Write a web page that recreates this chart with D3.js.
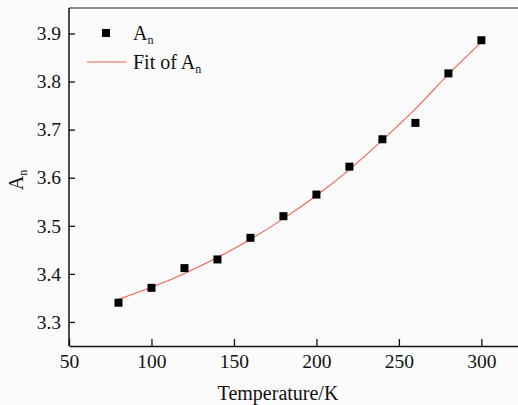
<!DOCTYPE html>
<html>
<head>
<meta charset="utf-8">
<script src="https://cdn.jsdelivr.net/npm/d3@7"></script>
<style>
  body { margin: 0; background: #fbfbfb; }
  svg text { font-family: "Liberation Serif", "Times New Roman", serif; fill: #111; }
</style>
</head>
<body>
<script>
// measured points
var temps = [80, 100, 120, 140, 160, 180, 200, 220, 240, 260, 280, 300];
var anValues = [3.340, 3.371, 3.412, 3.430, 3.475, 3.520, 3.565, 3.623, 3.680, 3.714, 3.817, 3.886];
// fit curve
var fitValues = [3.347, 3.372, 3.401, 3.434, 3.472, 3.515, 3.563, 3.617, 3.678, 3.743, 3.815, 3.882];
var xTicks = [50, 100, 150, 200, 250, 300];
var yTicks = [3.3, 3.4, 3.5, 3.6, 3.7, 3.8, 3.9];

var serif = '"Liberation Serif", "Times New Roman", serif';
var width = 518, height = 405;
var plotLeft = 69, plotTop = 8, plotBottom = 346;

var svg = d3.select("body").append("svg")
  .attr("width", width)
  .attr("height", height);

var x = d3.scaleLinear().domain([50, 322.2]).range([plotLeft, width]);
var y = d3.scaleLinear().domain([3.25, 3.953]).range([plotBottom, plotTop]);

// top frame line
svg.append("line")
  .attr("x1", plotLeft).attr("x2", width)
  .attr("y1", plotTop).attr("y2", plotTop)
  .attr("stroke", "#666").attr("stroke-width", 1.5);

//axes, ticks point inward
var xAxis = d3.axisBottom(x).tickValues(xTicks).tickSizeInner(-7).tickSizeOuter(0).tickPadding(8);
var yAxis = d3.axisLeft(y).tickValues(yTicks).tickSizeInner(-6).tickSizeOuter(0).tickPadding(8)
  .tickFormat(d3.format(".1f"));

var gx = svg.append("g").attr("transform", "translate(0," + plotBottom + ")").call(xAxis);
var gy = svg.append("g").attr("transform", "translate(" + plotLeft + ",0)").call(yAxis);

[gx, gy].forEach(function(g) {
  g.attr("font-family", serif).attr("font-size", 19.5);
  g.select(".domain").attr("stroke", "#111").attr("stroke-width", 1.5);
  g.selectAll(".tick line").attr("stroke", "#111").attr("stroke-width", 1.3);
  g.selectAll(".tick text")
    .style("font-family", serif)
    .style("font-size", "19.5px")
    .attr("fill", "#111");
});
gy.select(".domain").attr("d", "M0," + plotTop + "V" + plotBottom);

// fit line
var line = d3.line()
  .x(function(d, i) { return x(temps[i]); })
  .y(function(d) { return y(d); })
  .curve(d3.curveCatmullRom);

svg.append("path")
  .datum(fitValues)
  .attr("d", line)
  .attr("fill", "none")
  .attr("stroke", "#f06050")
  .attr("stroke-width", 1.1);

// square markers
svg.selectAll("rect.pt")
  .data(anValues)
  .enter()
  .append("rect")
  .attr("class", "pt")
  .attr("x", function(d, i) { return x(temps[i]) - 4; })
  .attr("y", function(d) { return y(d) - 4; })
  .attr("width", 8)
  .attr("height", 8)
  .attr("fill", "#000");

// legend
svg.append("rect").attr("x", 102).attr("y", 29).attr("width", 8).attr("height", 8).attr("fill", "#000");
var t1 = svg.append("text").attr("x", 133).attr("y", 40).style("font-size", "20px");
t1.append("tspan").text("A");
t1.append("tspan").attr("dy", 4).style("font-size", "12px").text("n");

svg.append("line").attr("x1", 87).attr("x2", 126).attr("y1", 62).attr("y2", 62)
  .attr("stroke", "#f06050").attr("stroke-width", 1.1);
var t2 = svg.append("text").attr("x", 133).attr("y", 69).style("font-size", "20px");
t2.append("tspan").text("Fit of A");
t2.append("tspan").attr("dy", 4).style("font-size", "12px").text("n");

// axis titles
svg.append("text")
  .attr("x", 278).attr("y", 400)
  .attr("text-anchor", "middle")
  .style("font-size", "20px")
  .text("Temperature/K");

var yt = svg.append("text")
  .attr("transform", "translate(23,180) rotate(-90)")
  .attr("text-anchor", "middle")
  .style("font-size", "20px");
yt.append("tspan").text("A");
yt.append("tspan").attr("dy", 4).style("font-size", "12px").text("n");
</script>
</body>
</html>
